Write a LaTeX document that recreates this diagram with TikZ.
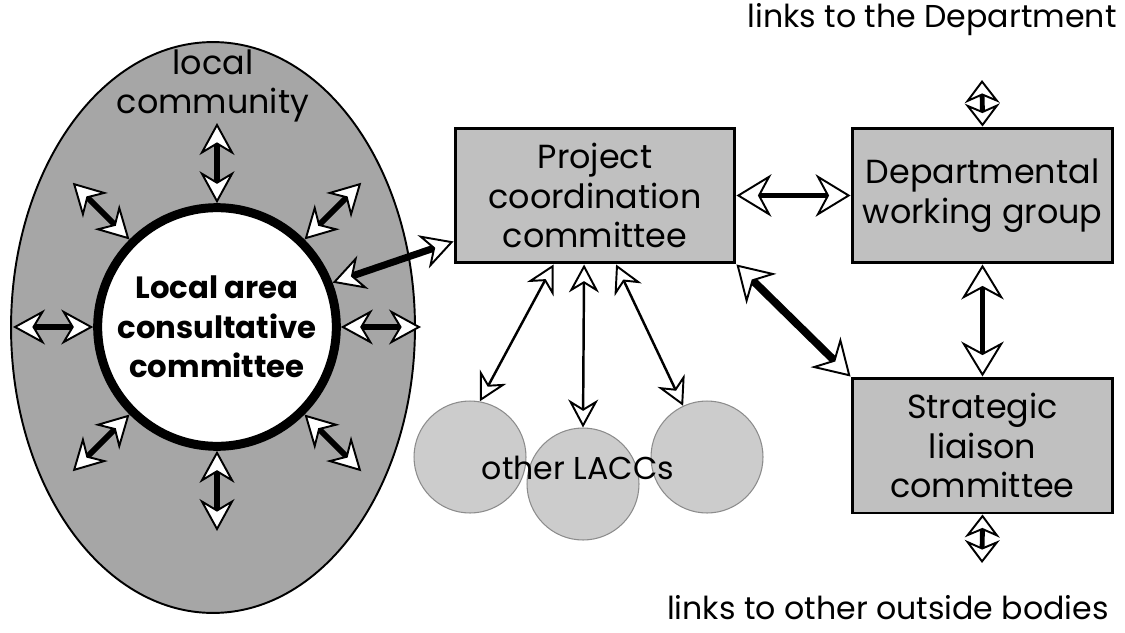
\documentclass[tikz,border=0pt]{standalone}
\usepackage{fontspec}
\setmainfont{Poppins}
\usepackage{tikz}
\usetikzlibrary{positioning,arrows.meta,shapes.geometric,calc}

\definecolor{ringgray}{HTML}{A6A6A6}
\definecolor{boxgray}{HTML}{C0C0C0}
\definecolor{laccgray}{HTML}{CCCCCC}
\definecolor{laccedge}{HTML}{8C8C8C}

\begin{document}
\begin{tikzpicture}[
    x=0.02cm, y=0.02cm,
    label/.style={font=\fontsize{18}{22.5}\selectfont, align=center},
    box/.style={rectangle, draw, fill=boxgray, line width=1.7pt, minimum height=2.7cm,
        font=\fontsize{19}{22.5}\selectfont, align=center},
    lacc/.style={circle, draw=laccedge, fill=laccgray, line width=0.6pt, minimum size=2.24cm},
    radial/.style={<->, line width=3.4pt,
        >={Stealth[fill=white, line width=1.1pt, length=0.64cm, width=0.7cm]}},
    link/.style={<->, line width=2.8pt,
        >={Stealth[fill=white, line width=1.1pt, length=0.7cm, width=0.85cm]}},
    shortlink/.style={<->, line width=2.8pt,
        >={Stealth[fill=white, line width=1.1pt, length=0.46cm, width=0.7cm]}},
    thin/.style={<->, line width=1.4pt,
        >={Stealth[fill=white, line width=1.1pt, length=0.56cm, width=0.6cm]}}
]
\useasboundingbox (0,0) rectangle (1125,-632);

% === Local community ===
\node[ellipse, draw, fill=ringgray, line width=1.1pt, minimum width=8.08cm, minimum height=11.42cm]
    (community) at (213,-327.5) {};
\node[label, font=\fontsize{19}{22.5}\selectfont] (commtext) at (213,-86) {local\\community};

% Local area consultative committee
\node[circle, draw, fill=white, line width=5.1pt, minimum size=4.64cm,
    font=\fontsize{17.5}{22.5}\selectfont\bfseries, align=center]
    (laccmain) at (217,-327) {Local area\\consultative\\committee};

% Radial links into the community
\foreach \a in {0,45,...,315} {
    \coordinate (rim\a) at ($(laccmain.center)+(\a:204)$);
    \draw[radial] (laccmain.\a) -- (rim\a);
}

% === Other LACCs ===
\node[lacc] (lacc1) at (470,-457) {};
\node[lacc] (lacc2) at (583,-484) {};
\node[lacc] (lacc3) at (707,-457) {};
\node[label] (others) at (578,-468) {other LACCs};

% === Committees ===
\node[box, minimum width=5.6cm] (pcc) at (595,-195.5) {Project\\coordination\\committee};
\node[box, minimum width=5.22cm] (dwg) at (982.5,-195.5) {Departmental\\working group};
\node[box, minimum width=5.22cm] (slc) at (982.5,-445.5) {Strategic\\liaison\\committee};

% Outside links
\node[label] (deptlinks) at (932,-20) {links to the Department};
\node[label] (outlinks) at (888,-608) {links to other outside bodies};
\coordinate (deptend) at (982,-80);
\coordinate (outend) at (982,-563);

% Connectors
\draw[radial, line width=4pt] (laccmain.21) -- (pcc.198);
\draw[link] (pcc.east) -- (dwg.west);
\draw[link, line width=4.5pt] (pcc.south east) -- (slc.north west);
\draw[link] (dwg.south) -- (slc.north);
\draw[shortlink] (dwg.north) -- (deptend);
\draw[shortlink] (slc.south) -- (outend);

\draw[thin] (pcc.239) -- (lacc1.80);
\draw[thin] (pcc.261) -- (lacc2.north);
\draw[thin] (pcc.287) -- (lacc3.115);
\end{tikzpicture}
\end{document}
